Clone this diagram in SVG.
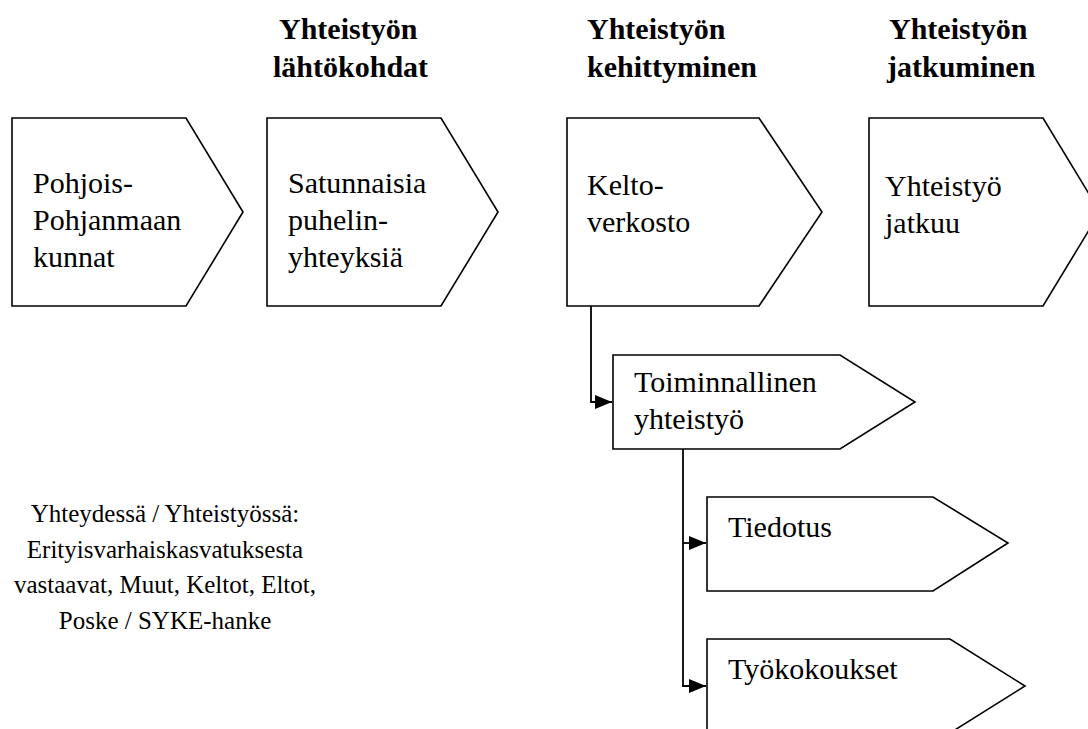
<svg xmlns="http://www.w3.org/2000/svg" width="1088" height="729" viewBox="0 0 1088 729">
<style>
.n{fill:#fff;stroke:#000;stroke-width:1.6;stroke-linejoin:miter}
.t{font-family:"Liberation Serif","Times New Roman",serif;font-size:30px;fill:#000}
.h{font-family:"Liberation Serif","Times New Roman",serif;font-size:30px;font-weight:bold;fill:#000}
.s{font-family:"Liberation Serif","Times New Roman",serif;font-size:25px;fill:#000;text-anchor:middle}
.c{fill:none;stroke:#000;stroke-width:1.8}
</style>
<defs>
<marker id="ah" markerUnits="userSpaceOnUse" markerWidth="18" markerHeight="16" refX="17" refY="7" orient="auto">
<path d="M0,0 L17,7 L0,14 Z" fill="#000"/>
</marker>
</defs>
<rect width="1088" height="729" fill="#fff"/>
<g id="headers">
<text class="h" x="279" y="39">Yhteistyön</text>
<text class="h" x="273" y="77">lähtökohdat</text>
<text class="h" x="587" y="39">Yhteistyön</text>
<text class="h" x="587" y="77">kehittyminen</text>
<text class="h" x="889" y="39">Yhteistyön</text>
<text class="h" x="887" y="77">jatkuminen</text>
</g>
<g id="connectors">
<polyline class="c" points="591,306 591,402 612,402" marker-end="url(#ah)"/>
<polyline class="c" points="683,449 683,686 706,686" marker-end="url(#ah)"/>
<line class="c" x1="683" y1="543" x2="706" y2="543" marker-end="url(#ah)"/>
</g>
<g id="n1">
<polygon class="n" points="12,118 186,118 243,212 186,306 12,306"/>
<text class="t" x="33" y="193">Pohjois-</text>
<text class="t" x="33" y="230">Pohjanmaan</text>
<text class="t" x="33" y="267">kunnat</text>
</g>
<g id="n2">
<polygon class="n" points="267,118 441,118 498,212 441,306 267,306"/>
<text class="t" x="288" y="193">Satunnaisia</text>
<text class="t" x="288" y="230">puhelin-</text>
<text class="t" x="288" y="267">yhteyksiä</text>
</g>
<g id="n3">
<polygon class="n" points="567,118 759,118 822,212 759,306 567,306"/>
<text class="t" x="587" y="195">Kelto-</text>
<text class="t" x="587" y="232">verkosto</text>
</g>
<g id="n4">
<polygon class="n" points="869,118 1043,118 1100,212 1043,306 869,306"/>
<text class="t" x="885" y="196">Yhteistyö</text>
<text class="t" x="885" y="233">jatkuu</text>
</g>
<g id="n5">
<polygon class="n" points="613,355 840,355 915,402 840,449 613,449"/>
<text class="t" x="634" y="392">Toiminnallinen</text>
<text class="t" x="634" y="429">yhteistyö</text>
</g>
<g id="n6">
<polygon class="n" points="707,497 933,497 1008,543 933,591 707,591"/>
<text class="t" x="728" y="537">Tiedotus</text>
</g>
<g id="n7">
<polygon class="n" points="707,639 950,639 1025,686 950,733 707,733"/>
<text class="t" x="728" y="679">Työkokoukset</text>
</g>
<g id="note">
<text class="s" x="165" y="522">Yhteydessä / Yhteistyössä:</text>
<text class="s" x="165" y="558">Erityisvarhaiskasvatuksesta</text>
<text class="s" x="165" y="593">vastaavat, Muut, Keltot, Eltot,</text>
<text class="s" x="165" y="629">Poske / SYKE-hanke</text>
</g>
</svg>
